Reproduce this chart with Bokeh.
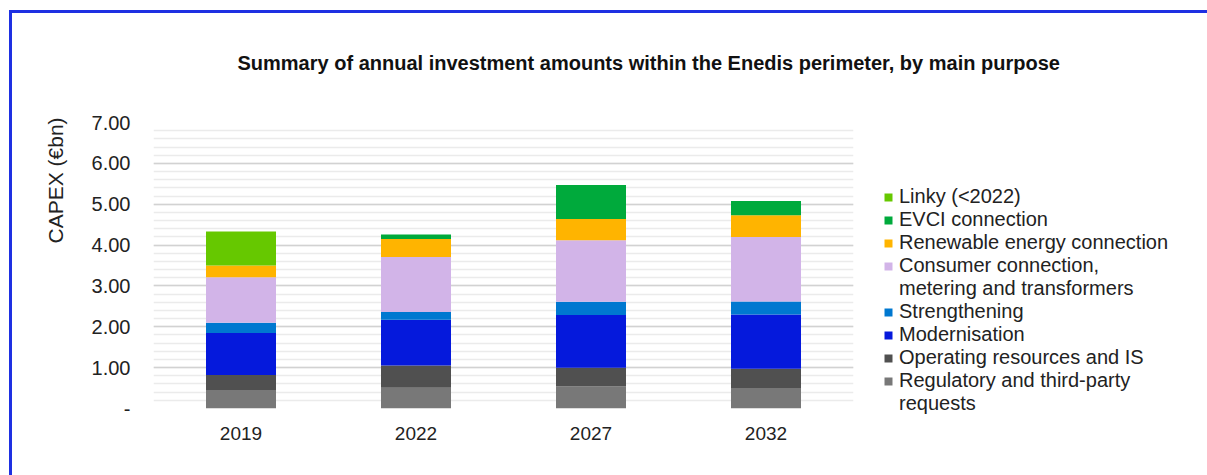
from bokeh.plotting import figure
from bokeh.models import (ColumnDataSource, FactorRange, Range1d, FixedTicker,
                          CustomJSTickFormatter, Legend, LegendItem, Title)
from bokeh.embed import file_html
from bokeh.resources import INLINE

years = ["2019", "2022", "2027", "2032"]
regulatory = [0.45, 0.51, 0.54, 0.50]
operating = [0.37, 0.54, 0.46, 0.47]
modernisation = [1.03, 1.12, 1.29, 1.33]
strengthening = [0.25, 0.19, 0.32, 0.32]
consumer = [1.11, 1.35, 1.51, 1.58]
renewable = [0.29, 0.44, 0.52, 0.53]
evci = [0.00, 0.11, 0.83, 0.35]
linky = [0.83, 0.00, 0.00, 0.00]

series_keys = ["regulatory", "operating", "modernisation", "strengthening",
               "consumer", "renewable", "evci", "linky"]
# legend labels; a second list entry is a continuation line shown without a swatch
series_labels = [["Regulatory and third-party", "requests"],
                 ["Operating resources and IS"],
                 ["Modernisation"],
                 ["Strengthening"],
                 ["Consumer connection,", "metering and transformers"],
                 ["Renewable energy connection"],
                 ["EVCI connection"],
                 ["Linky (<2022)"]]
series_colors = ["#787878", "#505050", "#0519dc", "#0078d0",
                 "#d2b4e8", "#ffb400", "#00aa3c", "#66c800"]

y_ticks = [0, 1, 2, 3, 4, 5, 6, 7]
title_text = "Summary of annual investment amounts within the Enedis perimeter, by main purpose"
y_title = "CAPEX (\u20acbn)"

source = ColumnDataSource(dict(
    year=years, regulatory=regulatory, operating=operating,
    modernisation=modernisation, strengthening=strengthening,
    consumer=consumer, renewable=renewable, evci=evci, linky=linky))

FONT = "Liberation Sans"
FRAME_BLUE = "#1e30e2"

p = figure(x_range=FactorRange(*years, range_padding=0),
           y_range=Range1d(0, 7),
           width=1207, height=475,
           frame_width=700, frame_height=286,
           min_border_left=153, min_border_right=354,
           min_border_top=122, min_border_bottom=67,
           output_backend="svg", toolbar_location=None)
p.border_fill_color = None
p.background_fill_color = None
p.styles = {
    "background": (f"linear-gradient({FRAME_BLUE},{FRAME_BLUE}) 9px 10px / 100% 3px no-repeat, "
                   f"linear-gradient({FRAME_BLUE},{FRAME_BLUE}) 9px 10px / 3px 100% no-repeat, white")
}

renderers = p.vbar_stack(series_keys, x="year", width=0.4, color=series_colors,
                         line_color=None, source=source)

# invisible renderer used for legend continuation lines (no swatch)
blank = p.vbar(x=[], top=[], width=0.4, fill_alpha=0, line_alpha=0)

p.outline_line_color = None
p.xgrid.grid_line_color = None
p.ygrid.grid_line_color = "#d2d2d2"
p.ygrid.grid_line_width = 1.5
p.ygrid.minor_grid_line_color = "#ebebeb"
p.ygrid.minor_grid_line_width = 1.5

p.yaxis.ticker = FixedTicker(ticks=y_ticks, minor_ticks=[i / 5 for i in range(36)])
p.yaxis.formatter = CustomJSTickFormatter(code="return tick == 0 ? '-' : tick.toFixed(2);")
p.yaxis.axis_line_color = None
p.yaxis.major_tick_line_color = None
p.yaxis.minor_tick_line_color = None
p.yaxis.major_label_standoff = 17
p.yaxis.major_label_text_font = FONT
p.yaxis.major_label_text_font_size = "20px"
p.yaxis.major_label_text_color = "#222222"

p.xaxis.axis_line_color = None
p.xaxis.major_tick_line_color = None
p.xaxis.minor_tick_line_color = None
p.xaxis.major_label_standoff = 12
p.xaxis.major_label_text_font = FONT
p.xaxis.major_label_text_font_size = "19px"
p.xaxis.major_label_text_color = "#222222"

ytitle = Title(text=y_title, align="left", offset=165, standoff=44,
               text_font=FONT, text_font_size="21px", text_font_style="normal",
               text_color="#222222")
p.add_layout(ytitle, "left")

items = []
for lines, r in zip(series_labels, renderers):
    group = [LegendItem(label=lines[0], renderers=[r])]
    for extra in lines[1:]:
        group.append(LegendItem(label=extra, renderers=[blank]))
    items.append(group)
items.reverse()
flat_items = [it for group in items for it in group]

legend = Legend(items=flat_items, location=(30, -7),
                label_text_font=FONT, label_text_font_size="20px",
                label_text_color="#222222",
                glyph_width=10, glyph_height=10, label_height=22,
                label_standoff=6, spacing=0, padding=0, margin=0,
                border_line_color=None, background_fill_alpha=0)
p.add_layout(legend, "right")

title = Title(text=title_text, align="left", offset=84, standoff=96,
              vertical_align="middle",
              text_font=FONT, text_font_size="20px", text_font_style="bold",
              text_color="#111111")
p.add_layout(title, "above")

open("out.html", "w").write(file_html(p, INLINE))
